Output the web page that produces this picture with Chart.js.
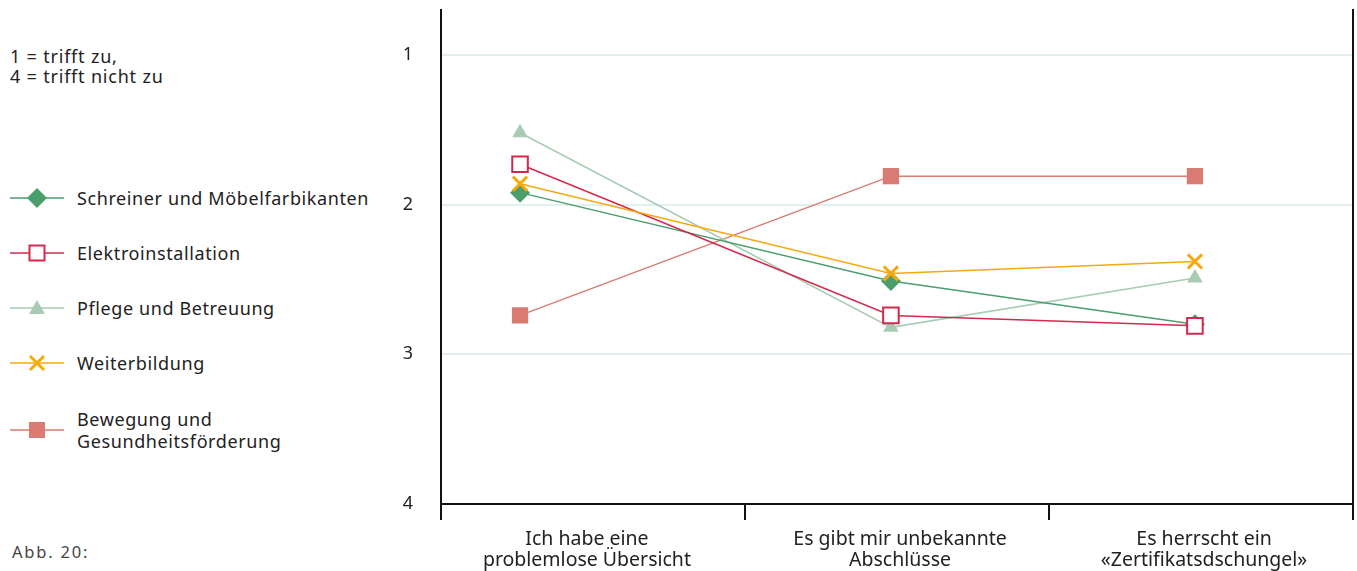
<!DOCTYPE html>
<html>
<head>
<meta charset="utf-8">
<script src="https://cdn.jsdelivr.net/npm/chart.js@4.4.1/dist/chart.umd.min.js"></script>
<style>
  body { margin: 0; width: 1357px; height: 571px; overflow: hidden; background: #fff; font-family: 'Noto Sans', sans-serif; color: #222; }
  #wrap { position: absolute; left: 380px; top: 0; width: 977px; height: 571px; }
  .note { position: absolute; left: 10px; top: 46px; font-size: 18px; line-height: 20px; letter-spacing: 0.8px; }
  .abb { position: absolute; left: 12px; top: 540px; font-size: 16.5px; color: #444; letter-spacing: 1.8px; }
  .leg { position: absolute; left: 10px; display: flex; align-items: center; font-size: 18px; line-height: 22px; letter-spacing: 0.6px; }
  .leg svg { margin-right: 13px; flex: none; }
</style>
</head>
<body>
<div class="note">1 = trifft zu,<br>4 = trifft nicht zu</div>
<div id="legende"></div>
<div class="abb">Abb. 20:</div>
<div id="wrap"><canvas id="grafik"></canvas></div>
<script>
// Werte (1 = trifft zu, 4 = trifft nicht zu)
const kategorien = [
  ['Ich habe eine', 'problemlose Übersicht'],
  ['Es gibt mir unbekannte', 'Abschlüsse'],
  ['Es herrscht ein', '«Zertifikatsdschungel»']
];
const punktX = [0.26, 1.48, 2.48];
const labelX = [0.48, 1.51, 2.51];
const yTicks = [1, 2, 3, 4];

const schreiner = [1.92, 2.51, 2.80];
const elektro = [1.73, 2.74, 2.81];
const pflege = [1.52, 2.82, 2.49];
const weiterbildung = [1.86, 2.46, 2.38];
const bewegung = [2.74, 1.81, 1.81];

const serien = [
  { name: 'Schreiner und Möbelfarbikanten', werte: schreiner, farbe: '#4b9e6c', stil: 'rectRot', r: 10, fuellung: '#4b9e6c', order: 2 },
  { name: 'Elektroinstallation', werte: elektro, farbe: '#d4284c', stil: 'rect', r: 11, fuellung: '#ffffff', order: 1 },
  { name: 'Pflege und Betreuung', werte: pflege, farbe: '#a8cbb3', stil: 'triangle', r: 9, fuellung: '#a8cbb3', order: 3 },
  { name: 'Weiterbildung', werte: weiterbildung, farbe: '#f6a90e', stil: 'crossRot', r: 10, fuellung: '#f6a90e', order: 0 },
  { name: ['Bewegung und', 'Gesundheitsförderung'], werte: bewegung, farbe: '#d97b72', stil: 'rect', r: 11.5, fuellung: '#d97b72', order: 4 }
];

// Legende links
const legY = [198, 253, 308, 363, 430];
const markerSvg = {
  rectRot: (c) => `<polygon points="27,1 37,11 27,21 17,11" fill="${c}"/>`,
  rect: (c, f) => f === '#ffffff'
    ? `<rect x="19.5" y="3.5" width="15" height="15" fill="#fff" stroke="${c}" stroke-width="2"/>`
    : `<rect x="19" y="3" width="16" height="16" fill="${c}"/>`,
  triangle: (c) => `<polygon points="27,3 35,17 19,17" fill="${c}"/>`,
  crossRot: (c) => `<path d="M20,4 L34,18 M34,4 L20,18" stroke="${c}" stroke-width="3"/>`
};
const legende = document.getElementById('legende');
serien.forEach((s, i) => {
  const zeile = document.createElement('div');
  zeile.className = 'leg';
  const zweizeilig = Array.isArray(s.name);
  zeile.style.top = (legY[i] - (zweizeilig ? 22 : 11)) + 'px';
  zeile.innerHTML = `<svg width="54" height="22"><line x1="0" y1="11" x2="54" y2="11" stroke="${s.farbe}" stroke-width="1.5"/>${markerSvg[s.stil](s.farbe, s.fuellung)}</svg>`
    + `<span>${zweizeilig ? s.name.join('<br>') : s.name}</span>`;
  legende.appendChild(zeile);
});

const schrift = { family: 'Noto Sans', size: 19.5, lineHeight: 1.08 };
const ohnePadding = s => { s.paddingTop = 0; s.paddingBottom = 0; s.paddingLeft = 0; s.paddingRight = 0; };

new Chart(document.getElementById('grafik'), {
  type: 'line',
  data: {
    datasets: serien.map(s => ({
      label: Array.isArray(s.name) ? s.name.join(' ') : s.name,
      data: s.werte.map((v, i) => ({ x: punktX[i], y: v })),
      borderColor: s.farbe,
      borderWidth: 1.5,
      pointStyle: s.stil,
      pointRadius: s.r,
      pointHoverRadius: s.r,
      pointBackgroundColor: s.fuellung,
      pointBorderColor: s.farbe,
      pointBorderWidth: s.stil === 'crossRot' ? 3 : (s.fuellung === '#ffffff' ? 2 : 0),
      order: s.order,
      tension: 0
    }))
  },
  options: {
    responsive: true,
    maintainAspectRatio: false,
    animation: false,
    layout: { autoPadding: false, padding: { top: 10, right: 0, left: 0, bottom: 0 } },
    plugins: { legend: { display: false }, tooltip: { enabled: false } },
    scales: {
      x: {
        type: 'linear', min: 0, max: 3, position: 'bottom',
        afterBuildTicks: a => { a.ticks = [0, 1, 2, 3].map(v => ({ value: v })); },
        ticks: { display: false },
        grid: { drawOnChartArea: false, drawTicks: true, tickLength: 16, color: '#111', lineWidth: 2 },
        border: { color: '#111', width: 2 },
        afterFit: s => { s.height = 16; ohnePadding(s); }
      },
      x2: {
        type: 'linear', min: 0, max: 3, position: 'bottom',
        afterBuildTicks: a => { a.ticks = labelX.map(v => ({ value: v })); },
        ticks: {
          autoSkip: false, maxRotation: 0, padding: 1, color: '#222', font: schrift,
          callback: (v, i) => kategorien[i]
        },
        grid: { display: false },
        border: { display: false },
        afterFit: s => { s.height = 51; ohnePadding(s); }
      },
      y: {
        reverse: true, min: 0.7, max: 4,
        afterBuildTicks: a => { a.ticks = yTicks.map(v => ({ value: v })); },
        ticks: { padding: 28, color: '#222', font: { family: 'Noto Sans', size: 18 } },
        grid: { color: c => c.tick && c.tick.value === 4 ? 'rgba(0,0,0,0)' : '#e2efee', lineWidth: 2, drawTicks: false },
        border: { color: '#111', width: 2 },
        afterFit: s => { s.width = 61; ohnePadding(s); }
      },
      yR: {
        position: 'right', reverse: true, min: 0.7, max: 4,
        ticks: { display: false },
        grid: { display: false },
        border: { color: '#111', width: 2 },
        afterFit: s => { s.width = 4; ohnePadding(s); }
      }
    }
  }
});
</script>
</body>
</html>
